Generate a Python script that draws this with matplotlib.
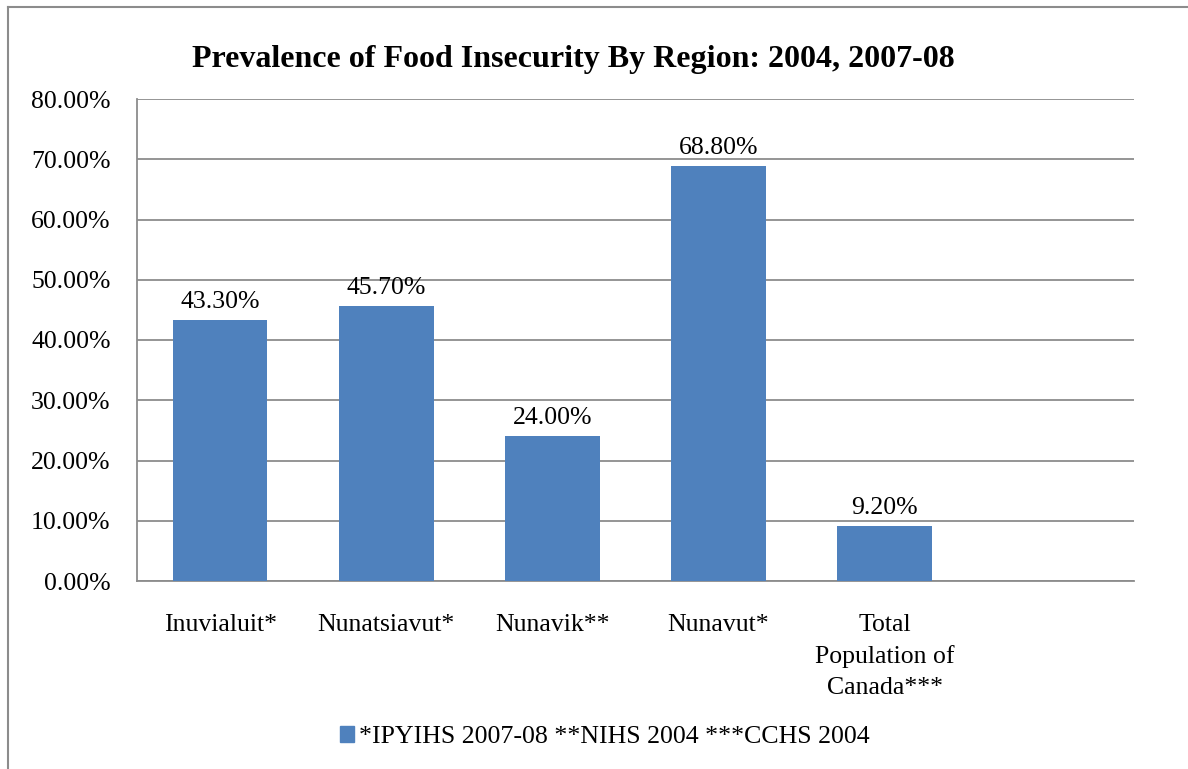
import matplotlib.pyplot as plt
from matplotlib.lines import Line2D
from matplotlib.patches import Patch
from matplotlib.ticker import FuncFormatter

# =========================
# DATA
# =========================
regions = ["Inuvialuit*", "Nunatsiavut*", "Nunavik**", "Nunavut*",
           "Total\nPopulation of\nCanada***", ""]
prevalence = [43.30, 45.70, 24.00, 68.80, 9.20]
series_name = "*IPYIHS 2007-08 **NIHS 2004 ***CCHS 2004"
title = "Prevalence of Food Insecurity By Region: 2004, 2007-08"

BAR_COLOR = "#4F81BD"
GRID_COLOR = "#8C8C8C"

plt.rcParams["font.family"] = ["Liberation Serif", "DejaVu Serif"]

fig = plt.figure(figsize=(11.88, 7.69), dpi=100)
ax = fig.add_axes([137 / 1188, 1 - 581 / 769, 997 / 1188, 482 / 769])

x = list(range(len(regions)))
ax.bar(x[:len(prevalence)], prevalence, width=0.57, color=BAR_COLOR, zorder=3)

# value labels above each bar
for xi, v in zip(x, prevalence):
    ax.annotate(f"{v:.2f}%", (xi, v), xytext=(0, 13), textcoords="offset points",
                ha="center", va="center", fontsize=18.5)

ax.set_xlim(-0.5, len(regions) - 0.5)
ax.set_ylim(0, 80)
ax.set_yticks(range(0, 81, 10))
ax.yaxis.set_major_formatter(FuncFormatter(lambda v, _: f"{v:.2f}%"))
ax.set_xticks(x)
ax.set_xticklabels(regions, fontsize=18.5, linespacing=1.5)
ax.tick_params(axis="y", labelsize=18.5, length=0, pad=19)
ax.tick_params(axis="x", length=0, pad=24)

ax.grid(axis="y", color=GRID_COLOR, linewidth=1.3, zorder=0)
for side in ["top", "right"]:
    ax.spines[side].set_visible(False)
for side in ["left", "bottom"]:
    ax.spines[side].set_color(GRID_COLOR)
    ax.spines[side].set_linewidth(1.3)

fig.text(573 / 1188, 1 - 59 / 769, title, ha="center", va="center",
         fontsize=23, fontweight="bold")

fig.legend(handles=[Patch(color=BAR_COLOR, label=series_name)],
           loc="center", bbox_to_anchor=(605 / 1188, 1 - 737 / 769),
           frameon=False, fontsize=18.6, handlelength=0.55, handleheight=0.55,
           handletextpad=0.2)

# outer chart border (left and top edges only)
fig.add_artist(Line2D([8 / 1188, 8 / 1188], [0, 1 - 7 / 769],
                      transform=fig.transFigure, color="#8C8C8C", linewidth=1.5))
fig.add_artist(Line2D([8 / 1188, 1], [1 - 7 / 769, 1 - 7 / 769],
                      transform=fig.transFigure, color="#8C8C8C", linewidth=1.5))

fig.savefig("out.png", dpi=100)
